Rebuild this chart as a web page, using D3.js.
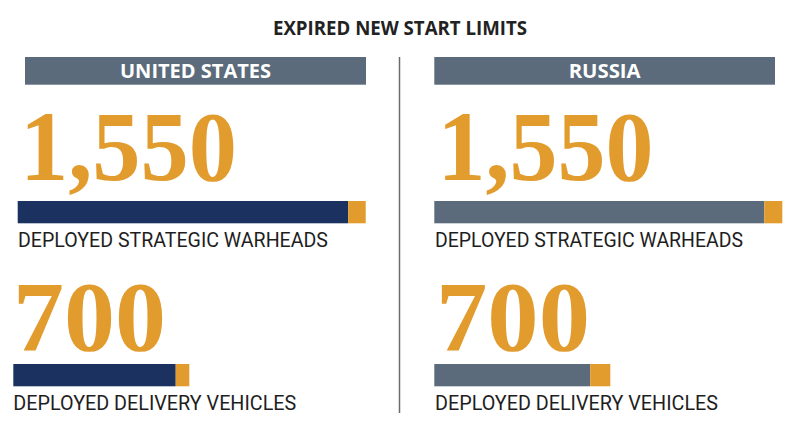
<!DOCTYPE html>
<html>
<head>
<meta charset="utf-8">
<script src="https://cdn.jsdelivr.net/npm/d3@7"></script>
<style>
  html, body { margin: 0; padding: 0; background: #fff; }
  svg { display: block; }
</style>
</head>
<body>
<div id="chart"></div>
<script>
// ---- data ----
const title = "EXPIRED NEW START LIMITS";
const countries = ["UNITED STATES", "RUSSIA"];
const metrics = ["DEPLOYED STRATEGIC WARHEADS", "DEPLOYED DELIVERY VEHICLES"];
const limits = [1550, 700];
const limitLabels = ["1,550", "700"];
const usDeployed = [1472, 646];
const ruDeployed = [1470, 620];

// ---- layout ----
const W = 800, H = 447;
const orange = "#E29B2D", navy = "#1B3260", slate = "#5B6B7B";
const svg = d3.select("#chart").append("svg").attr("width", W).attr("height", H);

svg.append("text")
  .attr("x", 400).attr("y", 35)
  .attr("text-anchor", "middle")
  .attr("font-family", "'Source Sans Pro', 'Open Sans', sans-serif")
  .attr("font-weight", 700).attr("font-size", 19)
  .attr("fill", "#222")
  .attr("textLength", 254).attr("lengthAdjust", "spacingAndGlyphs")
  .text(title);

// divider
svg.append("line")
  .attr("x1", 399.5).attr("x2", 399.5).attr("y1", 57).attr("y2", 413)
  .attr("stroke", "#6b6b6b").attr("stroke-width", 1.5);

// metric scales (one per metric)
const scales = [
  d3.scaleLinear().domain([0, limits[0]]).range([0, 348]),
  d3.scaleLinear().domain([0, limits[1]]).range([0, 176])
];

const panels = [
  { name: countries[0], deployed: usDeployed, color: navy,
    header: [25, 366], headW: 151,
    numX: [20, 13], numW: [217, 153],
    barX: [17.7, 13.3],
    labX: [18, 13.3], labW: [310, 283] },
  { name: countries[1], deployed: ruDeployed, color: slate,
    header: [434.3, 775], headW: 72,
    numX: [437.5, 436], numW: [216, 154],
    barX: [434.3, 434.3],
    labX: [435, 435], labW: [308, 283] }
];

const rowY = [
  { num: 180, barTop: 201, lab: 247 },
  { num: 350, barTop: 364, lab: 409.5 }
];

panels.forEach(p => {
  const g = svg.append("g");
  g.append("rect")
    .attr("x", p.header[0]).attr("y", 57)
    .attr("width", p.header[1] - p.header[0]).attr("height", 27.7)
    .attr("fill", slate);
  g.append("text")
    .attr("x", (p.header[0] + p.header[1]) / 2).attr("y", 78.3)
    .attr("text-anchor", "middle")
    .attr("font-family", "'Source Sans Pro', 'Open Sans', sans-serif")
    .attr("font-weight", 700).attr("font-size", 20)
    .attr("fill", "#fff")
    .attr("textLength", p.headW).attr("lengthAdjust", "spacingAndGlyphs")
    .text(p.name);

  metrics.forEach((m, i) => {
    const r = rowY[i], x = scales[i];
    g.append("text")
      .attr("x", p.numX[i]).attr("y", r.num)
      .attr("font-family", "'Liberation Serif', 'Times New Roman', serif")
      .attr("font-weight", 700).attr("font-size", 99)
      .attr("fill", orange)
      .attr("textLength", p.numW[i]).attr("lengthAdjust", "spacingAndGlyphs")
      .text(limitLabels[i]);
    // deployed segment
    g.append("rect")
      .attr("x", p.barX[i]).attr("y", r.barTop)
      .attr("width", x(p.deployed[i])).attr("height", 22.3)
      .attr("fill", p.color);
    // headroom up to limit
    g.append("rect")
      .attr("x", p.barX[i] + x(p.deployed[i])).attr("y", r.barTop)
      .attr("width", x(limits[i]) - x(p.deployed[i])).attr("height", 22.3)
      .attr("fill", orange);
    g.append("text")
      .attr("x", p.labX[i]).attr("y", r.lab)
      .attr("font-family", "'Source Sans Pro', Roboto, sans-serif")
      .attr("font-weight", 400).attr("font-size", 20)
      .attr("fill", "#1e1e1e")
      .attr("textLength", p.labW[i]).attr("lengthAdjust", "spacingAndGlyphs")
      .text(m);
  });
});
</script>
</body>
</html>
